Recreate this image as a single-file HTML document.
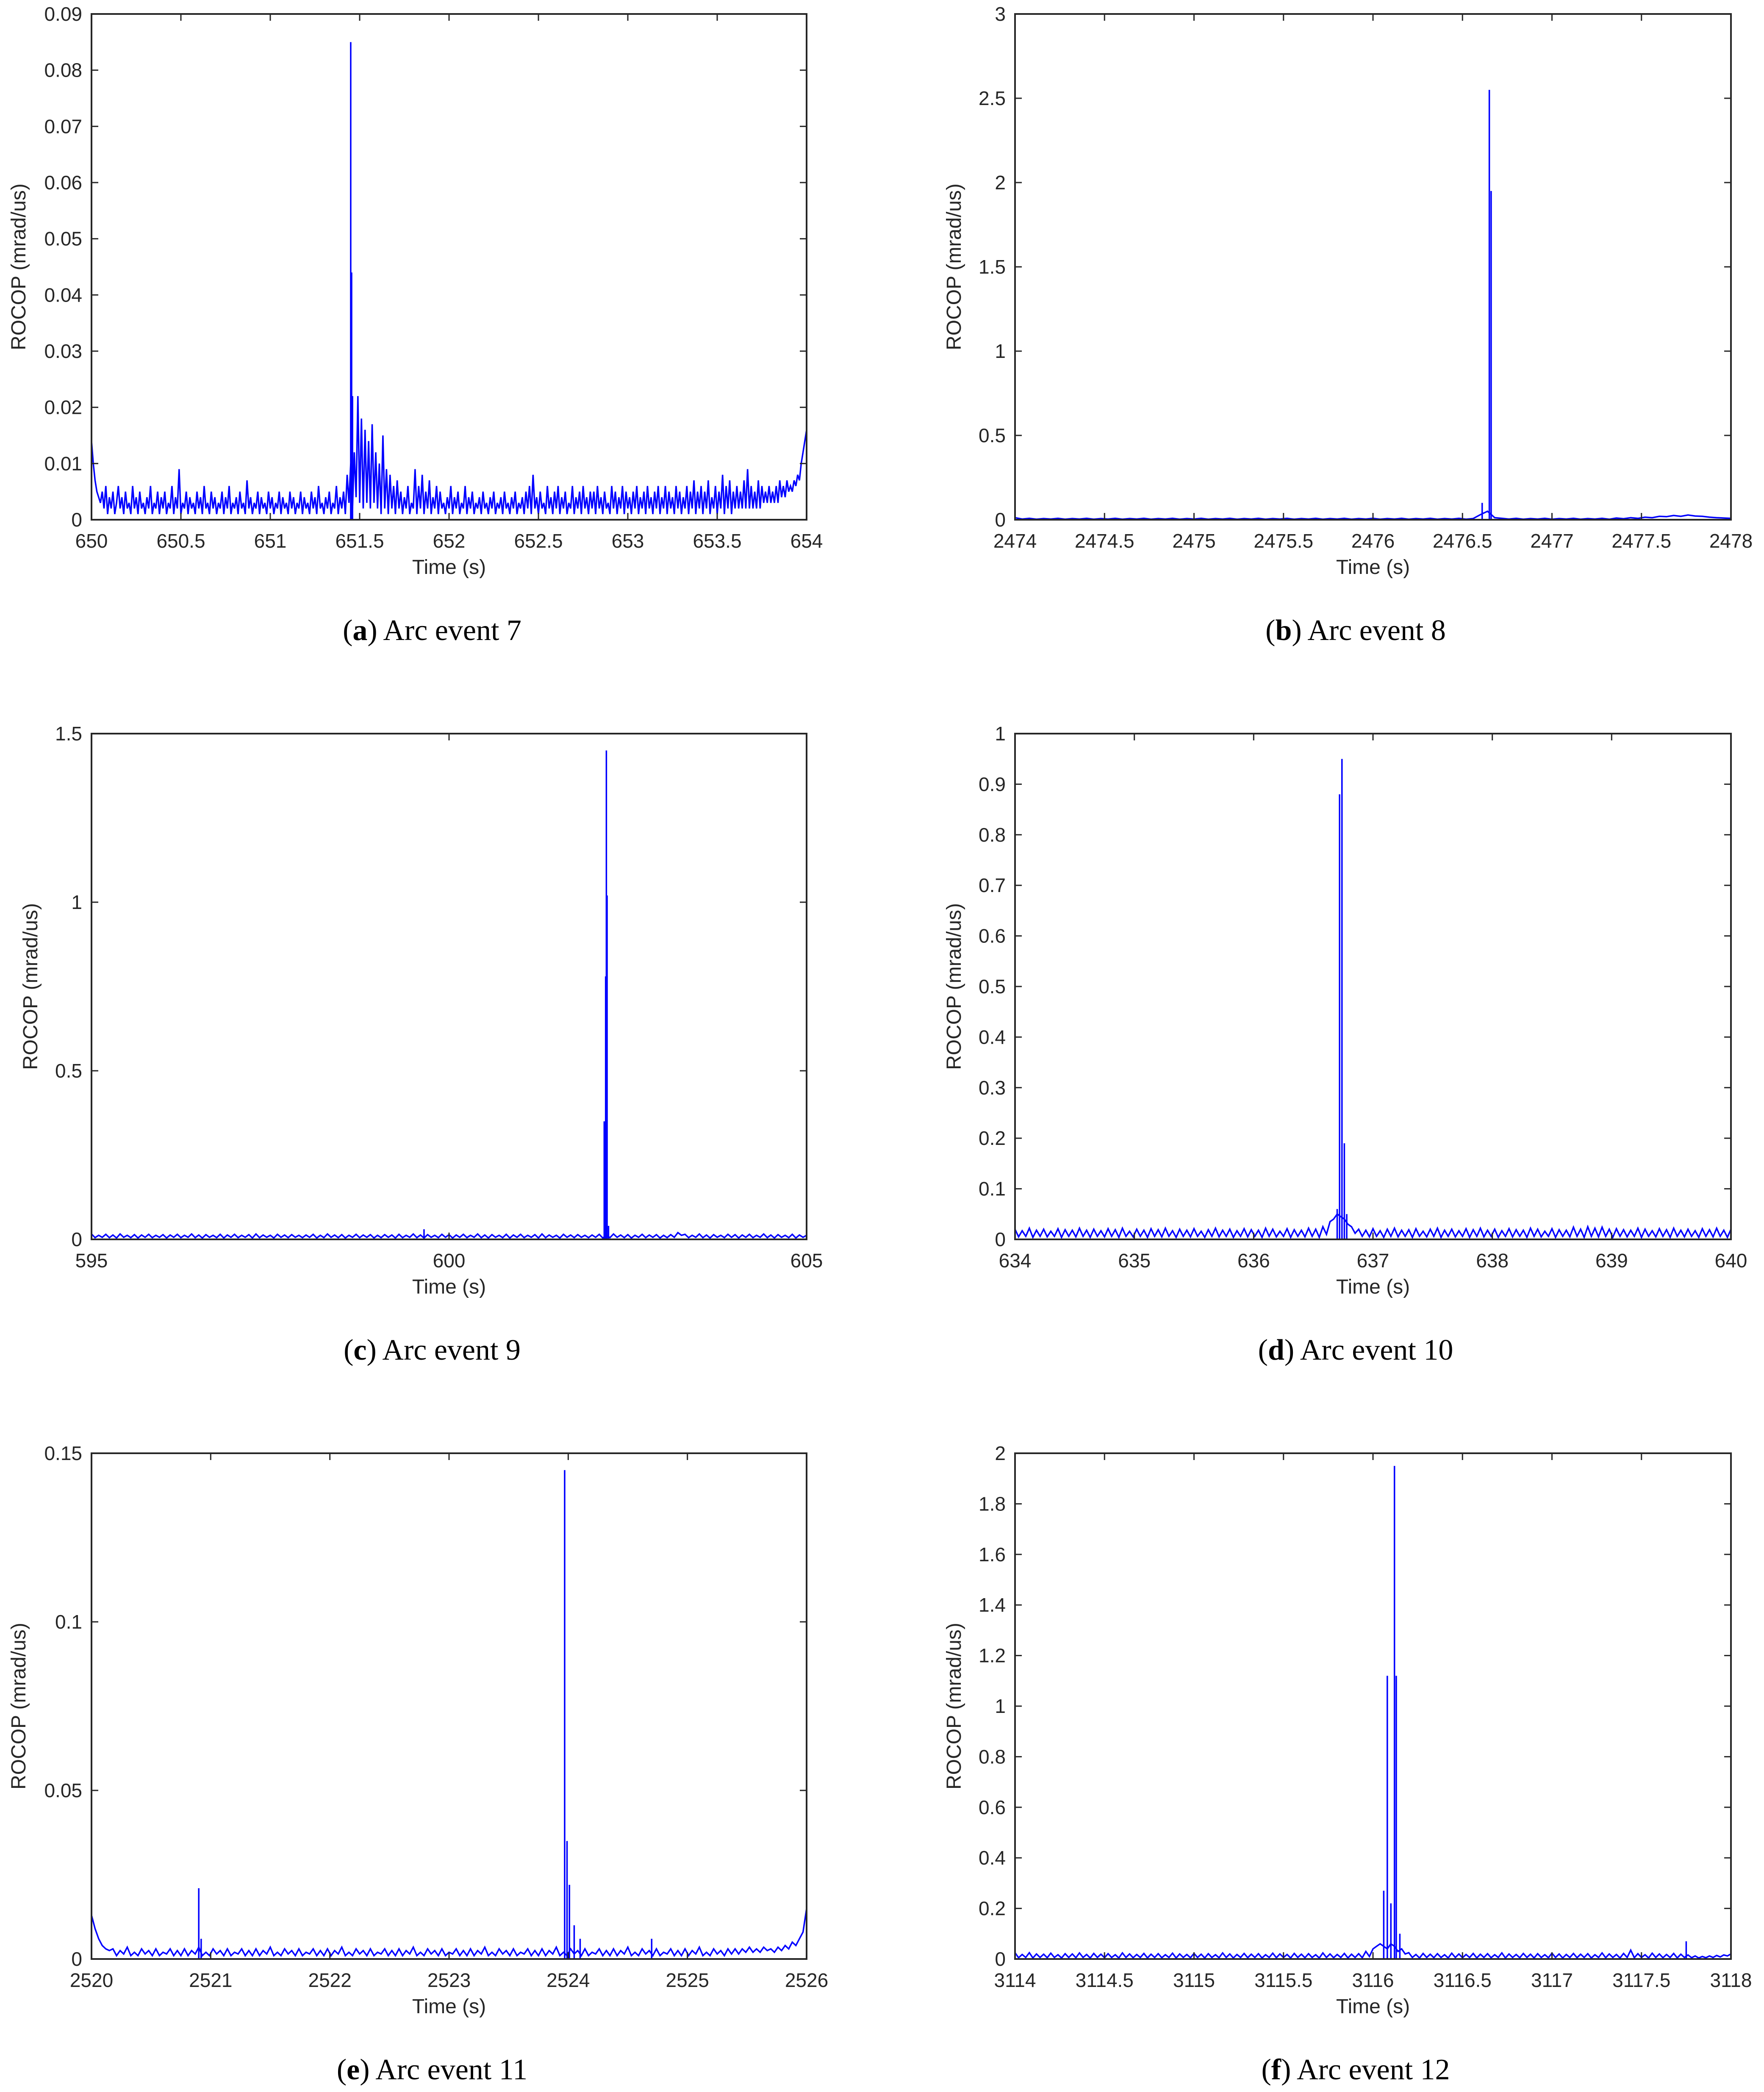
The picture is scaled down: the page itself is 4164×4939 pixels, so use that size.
<!DOCTYPE html>
<html><head><meta charset="utf-8"><style>
html,body{margin:0;padding:0;background:#fff;}
svg{display:block;}
text{font-family:"Liberation Sans",sans-serif;fill:#262626;}
.cap{font-family:"Liberation Serif",serif;fill:#000;}
</style></head><body>
<svg id="fig" width="4164" height="4939" viewBox="0 0 4164 4939" xmlns="http://www.w3.org/2000/svg"></svg>
<script>
// Panel (a) Arc event 7 — values in 1e-3 mrad/us
const aXTicks=[650,650.5,651,651.5,652,652.5,653,653.5,654];
const aYTicks=[0,10,20,30,40,50,60,70,80,90];
const aYLabels=["0","0.01","0.02","0.03","0.04","0.05","0.06","0.07","0.08","0.09"];
const aBase=[14,10,7,5,4,3,5,2,6,1,4,2,5,1,3,6,2,4,1,5,
2,3,1,6,2,4,1,5,2,3,1,4,2,6,1,3,2,5,1,4,
2,5,1,3,2,6,1,4,2,9,1,3,2,5,1,4,2,3,1,5,
2,4,1,6,2,3,1,5,2,4,1,3,2,5,1,4,2,6,1,3,
2,4,1,5,2,3,1,7,2,4,1,3,2,5,1,4,2,3,1,5,
2,4,1,3,2,5,1,4,2,3,1,5,2,4,1,3,2,5,1,4,
2,3,1,5,2,4,1,6,2,3,1,4,2,5,1,3,2,6,1,4,
2,5,1,8,3,10,2,12,4,22,3,18,2,16,3,14,2,17,3,12,
2,10,1,15,2,9,1,8,2,6,1,7,2,5,1,4,2,6,1,3,
2,9,1,6,2,8,1,5,2,7,1,4,2,6,1,5,2,3,1,4,
2,6,1,4,2,5,1,3,2,6,1,4,2,5,1,3,2,4,1,5,
2,3,1,4,2,5,1,3,2,4,1,5,2,3,1,4,2,5,1,3,
2,4,1,5,2,6,1,8,2,4,1,5,2,3,1,6,2,4,1,5,
2,6,1,4,2,5,1,3,2,6,1,4,2,5,1,6,2,4,1,5,
2,5,1,6,2,4,1,5,2,3,1,6,2,5,1,4,2,6,1,5,
2,4,1,5,2,6,1,4,2,5,1,6,2,4,1,5,2,6,1,4,
2,6,1,5,2,4,1,6,2,5,1,4,2,6,1,5,2,7,1,5,
2,6,1,5,2,7,1,4,2,6,1,5,2,8,1,6,2,7,1,5,
2,6,2,5,2,7,2,9,2,6,2,5,2,7,2,6,3,5,3,6,
3,5,3,6,3,7,4,6,4,7,5,6,5,7,6,8,7,10,12,14,16];
const aSpikeT=[651.45,651.455,651.46];
const aSpikeV=[85,44,22];

// Panel (b) Arc event 8
const bXTicks=[2474,2474.5,2475,2475.5,2476,2476.5,2477,2477.5,2478];
const bYTicks=[0,0.5,1,1.5,2,2.5,3];
const bYLabels=["0","0.5","1","1.5","2","2.5","3"];
const bBase=[.012,.004,.008,.003,.007,.004,.008,.003,.007,.004,
.008,.003,.007,.004,.008,.003,.007,.004,.008,.003,
.007,.004,.008,.003,.007,.004,.008,.003,.007,.004,
.008,.003,.007,.004,.008,.003,.007,.004,.008,.003,
.007,.004,.008,.003,.007,.004,.008,.003,.007,.004,
.008,.003,.007,.004,.008,.003,.007,.004,.008,.003,
.007,.004,.008,.003,.007,.03,.05,.012,.008,.004,
.008,.003,.007,.004,.008,.003,.007,.004,.008,.003,
.007,.004,.008,.003,.01,.006,.012,.008,.015,.012,
.02,.018,.025,.02,.028,.022,.02,.015,.012,.01,.008];
const bSpikeT=[2476.61,2476.65,2476.66];
const bSpikeV=[0.1,2.55,1.95];

// Panel (c) Arc event 9
const cXTicks=[595,600,605];
const cYTicks=[0,0.5,1,1.5];
const cYLabels=["0","0.5","1","1.5"];
const cBase=[.016,.005,.012,.006,.015,.005,.013,.004,.016,.006,.012,.005,.014,.004,.013,.006,.015,.005,.012,.006,
.014,.004,.013,.006,.015,.005,.012,.006,.016,.005,.013,.004,.014,.006,.012,.005,.015,.004,.013,.006,
.015,.005,.012,.006,.014,.004,.016,.005,.013,.006,.012,.004,.015,.006,.013,.005,.014,.006,.012,.005,
.013,.006,.015,.004,.012,.005,.016,.006,.013,.005,.014,.004,.012,.006,.015,.005,.013,.006,.014,.004,
.012,.005,.014,.006,.013,.004,.015,.005,.012,.006,.016,.005,.013,.004,.014,.006,.012,.005,.015,.006,
.014,.004,.013,.006,.015,.005,.012,.006,.016,.005,.013,.004,.014,.006,.012,.005,.015,.004,.013,.006,
.015,.005,.012,.006,.014,.004,.016,.005,.013,.006,.012,.004,.015,.006,.013,.005,.014,.006,.012,.005,
.013,.006,.015,.004,.012,.005,.016,.006,.013,.005,.014,.004,.012,.006,.015,.005,.013,.006,.014,.004,
.012,.005,.014,.006,.02,.012,.015,.005,.012,.006,.016,.005,.013,.004,.014,.006,.012,.005,.015,.006,
.014,.004,.013,.006,.015,.005,.012,.006,.016,.005,.013,.004,.014,.006,.012,.005,.015,.004,.013,.006,.012];
const cSpikeT=[599.65,602.17,602.19,602.2,602.21,602.23];
const cSpikeV=[0.03,0.35,0.78,1.45,1.02,0.04];

// Panel (d) Arc event 10
const dXTicks=[634,635,636,637,638,639,640];
const dYTicks=[0,0.1,0.2,0.3,0.4,0.5,0.6,0.7,0.8,0.9,1];
const dYLabels=["0","0.1","0.2","0.3","0.4","0.5","0.6","0.7","0.8","0.9","1"];
const dBase=[.02,.005,.017,.006,.022,.004,.018,.006,.02,.005,.016,.006,.021,.004,.019,.006,.018,.005,.022,.006,
.018,.004,.02,.006,.017,.005,.021,.006,.019,.004,.022,.006,.016,.005,.02,.006,.018,.004,.021,.006,
.019,.005,.022,.006,.017,.004,.02,.006,.018,.005,.021,.006,.016,.004,.019,.006,.022,.005,.018,.006,
.02,.004,.017,.006,.021,.005,.019,.006,.018,.004,.022,.006,.02,.005,.016,.006,.021,.004,.019,.006,
.018,.005,.022,.006,.02,.004,.025,.01,.035,.04,.05,.045,.04,.03,.025,.012,.02,.006,.018,.005,
.021,.006,.017,.004,.02,.006,.022,.005,.018,.006,.019,.004,.021,.006,.016,.005,.02,.006,.022,.004,
.018,.006,.02,.005,.017,.006,.021,.004,.019,.006,.022,.005,.018,.006,.02,.004,.017,.006,.021,.005,
.019,.006,.018,.004,.022,.006,.02,.005,.016,.006,.021,.004,.019,.006,.018,.005,.024,.006,.02,.004,
.025,.006,.022,.005,.024,.006,.02,.004,.021,.006,.019,.005,.018,.006,.022,.004,.02,.006,.017,.005,
.021,.006,.019,.004,.022,.006,.018,.005,.02,.006,.017,.004,.021,.006,.019,.005,.022,.006,.018,.004,.02];
const dSpikeT=[636.7,636.72,636.74,636.76,636.78];
const dSpikeV=[0.06,0.88,0.95,0.19,0.05];

// Panel (e) Arc event 11 — values in 1e-3 mrad/us
const eXTicks=[2520,2521,2522,2523,2524,2525,2526];
const eYTicks=[0,50,100,150];
const eYLabels=["0","0.05","0.1","0.15"];
const eBase=[13,9,6,4,3,2.5,3,1,2.5,1.5,3.5,1,2,1,3,1.5,2.5,1,3,1,
2,1.5,3,1,2.5,1,3,1,2.5,1.5,3.5,1,2,1,3,1.5,2.5,1,3,1,
2,1.5,3,1,2.5,1,3,1,2.5,1.5,3.5,1,2,1,3,1.5,2.5,1,3,1,
2,1.5,3,1,2.5,1,3,1,2.5,1.5,3.5,1,2,1,3,1.5,2.5,1,3,1,
2,1.5,3,1,2.5,1,3,1,2.5,1.5,3.5,1,2,1,3,1.5,2.5,1,3,1,
2,1.5,3,1,2.5,1,3,1,2.5,1.5,3.5,1,2,1,3,1.5,2.5,1,3,1,
2,1.5,3,1,2.5,1,3,1,2.5,1.5,3.5,1,2,1,3,1.5,2.5,1,3,1,
2,1.5,3,1,2.5,1,3,1,2.5,1.5,3.5,1,2,1,3,1.5,2.5,1,3,1,
2,1.5,3,1,2.5,1,3,1,2.5,1.5,3.5,1,2,1,3,1.5,2.5,1,3,1.5,
3,1.5,3,2,3.5,2,3,2,3.5,2.5,3,2,3.5,2.5,4,3,5,4,6,8,15];
const eSpikeT=[2520.9,2520.92,2523.97,2523.99,2524.01,2524.05,2524.1,2524.7];
const eSpikeV=[21,6,145,35,22,10,6,6];

// Panel (f) Arc event 12
const fXTicks=[3114,3114.5,3115,3115.5,3116,3116.5,3117,3117.5,3118];
const fYTicks=[0,0.2,0.4,0.6,0.8,1,1.2,1.4,1.6,1.8,2];
const fYLabels=["0","0.2","0.4","0.6","0.8","1","1.2","1.4","1.6","1.8","2"];
const fBase=[.025,.005,.018,.006,.025,.004,.02,.006,.019,.005,.023,.006,.017,.004,.021,.006,.02,.005,.024,.006,
.018,.004,.022,.006,.019,.005,.021,.006,.017,.004,.024,.006,.02,.005,.018,.006,.022,.004,.019,.006,
.021,.005,.017,.006,.023,.004,.02,.006,.018,.005,.022,.006,.019,.004,.021,.006,.017,.005,.024,.006,
.02,.004,.018,.006,.022,.005,.019,.006,.021,.004,.017,.006,.023,.005,.02,.006,.018,.004,.022,.006,
.019,.005,.021,.006,.017,.004,.024,.006,.02,.005,.018,.006,.022,.004,.019,.006,.021,.005,.03,.01,
.04,.05,.06,.05,.04,.06,.05,.03,.04,.02,.025,.006,.018,.004,.022,.006,.019,.005,.021,.006,
.017,.004,.023,.006,.02,.005,.018,.006,.022,.004,.019,.006,.021,.005,.017,.006,.024,.004,.02,.006,
.018,.005,.022,.006,.019,.004,.021,.006,.017,.005,.023,.006,.02,.004,.018,.006,.022,.005,.019,.006,
.021,.004,.017,.006,.024,.005,.02,.006,.018,.004,.022,.006,.035,.005,.021,.006,.017,.004,.023,.006,
.02,.005,.018,.006,.022,.004,.019,.006,.016,.005,.012,.004,.01,.005,.012,.006,.014,.008,.016,.012,.02];
const fSpikeT=[3116.06,3116.08,3116.1,3116.12,3116.13,3116.15,3117.75];
const fSpikeV=[0.27,1.12,0.22,1.95,1.12,0.1,0.07];

const NS="http://www.w3.org/2000/svg";
const svg=document.getElementById('fig');
function mk(tag,attrs,parent){const e=document.createElementNS(NS,tag);for(const k in attrs)e.setAttribute(k,attrs[k]);(parent||svg).appendChild(e);return e;}

function panel(o){
  const g=mk('g',{});
  
  
  const L=o.L,R=o.R,T=o.T,B=o.B;
  const xmin=o.xt[0],xmax=o.xt[o.xt.length-1];
  const ymin=o.yt[0],ymax=o.yt[o.yt.length-1];
  const sx=v=>L+(v-xmin)/(xmax-xmin)*(R-L);
  const sy=v=>B-(v-ymin)/(ymax-ymin)*(B-T);
  const n=o.base.length;const step=(xmax-xmin)/(n-1);
  let pts=[];
  for(let i=0;i<n;i++)pts.push(sx(xmin+i*step).toFixed(1)+','+sy(o.base[i]).toFixed(1));
  const line=mk('polyline',{points:pts.join(' '),fill:'none',stroke:'#0000ff','stroke-width':3.5,'stroke-linejoin':'miter'},g);
  
  
  for(let i=0;i<o.st.length;i++){
    const s=mk('line',{x1:sx(o.st[i]),x2:sx(o.st[i]),y1:sy(ymin),y2:sy(o.sv[i]),stroke:'#0000ff','stroke-width':3.5},g);
    
    
  }
  const box=mk('rect',{x:L,y:T,width:R-L,height:B-T,fill:'none',stroke:'#262626','stroke-width':4},g);
  
  
  const tl=16;
  o.xt.forEach(v=>{
    const x=sx(v);
    mk('line',{x1:x,x2:x,y1:B,y2:B-tl,stroke:'#262626','stroke-width':3},g);
    mk('line',{x1:x,x2:x,y1:T,y2:T+tl,stroke:'#262626','stroke-width':3},g);
    const t=mk('text',{x:x,y:B+66,'font-size':46,'text-anchor':'middle'},g);
    t.textContent=String(v);
    
    
  });
  o.yt.forEach((v,i)=>{
    const y=sy(v);
    mk('line',{x1:L,x2:L+tl,y1:y,y2:y,stroke:'#262626','stroke-width':3},g);
    mk('line',{x1:R,x2:R-tl,y1:y,y2:y,stroke:'#262626','stroke-width':3},g);
    const t=mk('text',{x:L-22,y:y+16,'font-size':46,'text-anchor':'end'},g);
    t.textContent=o.yl[i];
    
    
  });
  const xl=mk('text',{x:(L+R)/2,y:B+128,'font-size':48,'text-anchor':'middle'},g);
  xl.textContent='Time (s)';
  
  
  const yx=o.ylx,yy=(T+B)/2;
  const yl=mk('text',{x:yx,y:yy,'font-size':48,'text-anchor':'middle',transform:'rotate(-90 '+yx+' '+yy+')'},g);
  yl.textContent='ROCOP (mrad/us)';
  
  
  const cap=mk('text',{x:o.capx,y:B+284,'font-size':70,'text-anchor':'middle','class':'cap'},g);
  cap.innerHTML='(<tspan font-weight="bold">'+o.letter+'</tspan>) '+o.title;
  
  
}
const rows=[33,1732,3431], H=1194;
panel({name:'panel-a',L:216,R:1904,T:rows[0],B:rows[0]+H,xt:aXTicks,yt:aYTicks,yl:aYLabels,base:aBase,st:aSpikeT,sv:aSpikeV,ylx:60,capx:1020,letter:'a',title:'Arc event 7'});
panel({name:'panel-b',L:2396,R:4086,T:rows[0],B:rows[0]+H,xt:bXTicks,yt:bYTicks,yl:bYLabels,base:bBase,st:bSpikeT,sv:bSpikeV,ylx:2268,capx:3200,letter:'b',title:'Arc event 8'});
panel({name:'panel-c',L:216,R:1904,T:rows[1],B:rows[1]+H,xt:cXTicks,yt:cYTicks,yl:cYLabels,base:cBase,st:cSpikeT,sv:cSpikeV,ylx:88,capx:1020,letter:'c',title:'Arc event 9'});
panel({name:'panel-d',L:2396,R:4086,T:rows[1],B:rows[1]+H,xt:dXTicks,yt:dYTicks,yl:dYLabels,base:dBase,st:dSpikeT,sv:dSpikeV,ylx:2268,capx:3200,letter:'d',title:'Arc event 10'});
panel({name:'panel-e',L:216,R:1904,T:rows[2],B:rows[2]+H,xt:eXTicks,yt:eYTicks,yl:eYLabels,base:eBase,st:eSpikeT,sv:eSpikeV,ylx:60,capx:1020,letter:'e',title:'Arc event 11'});
panel({name:'panel-f',L:2396,R:4086,T:rows[2],B:rows[2]+H,xt:fXTicks,yt:fYTicks,yl:fYLabels,base:fBase,st:fSpikeT,sv:fSpikeV,ylx:2268,capx:3200,letter:'f',title:'Arc event 12'});
</script>
</body></html>
